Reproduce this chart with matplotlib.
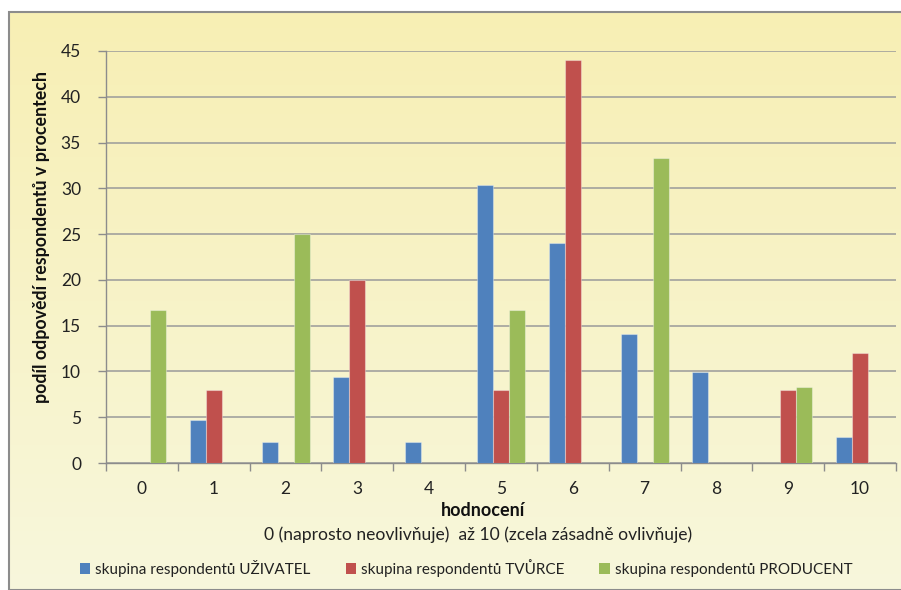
import numpy as np
import matplotlib
matplotlib.use("Agg")
import matplotlib.pyplot as plt
from matplotlib.patches import Rectangle, Patch

plt.rcParams['font.family'] = ['Lato', 'DejaVu Sans']

# Ratings 0..10 and share of answers (%) for each respondent group
ratings = [0, 1, 2, 3, 4, 5, 6, 7, 8, 9, 10]
uzivatel = [0, 4.7, 2.3, 9.4, 2.3, 30.4, 24.0, 14.1, 9.9, 0, 2.8]
tvurce = [0, 8.0, 0, 20.0, 0, 8.0, 44.0, 0, 0, 8.0, 12.0]
producent = [16.7, 0, 25.0, 0, 0, 16.7, 0, 33.3, 0, 8.3, 0]

series_names = ["skupina respondentů UŽIVATEL",
                "skupina respondentů TVŮRCE",
                "skupina respondentů PRODUCENT"]
series_colors = ["#4F81BD", "#C0504D", "#9BBB59"]
y_ticks = [0, 5, 10, 15, 20, 25, 30, 35, 40, 45]

W, H = 901, 590
fig = plt.figure(figsize=(W / 100, H / 100), dpi=100)
fig.patch.set_facecolor("white")

# Chart-area frame with a soft yellow vertical gradient
bg = fig.add_axes([9 / W, 0, 1 - 9 / W, 1 - 12 / H])
grad = np.linspace(0, 1, 256)[:, None]
top = np.array([247, 239, 180]) / 255
bottom = np.array([248, 247, 220]) / 255
img = top[None, None, :] * (1 - grad[:, :, None]) + bottom[None, None, :] * grad[:, :, None]
bg.imshow(img, aspect="auto", extent=[0, 1, 0, 1], origin="upper")
bg.set_xlim(0, 1)
bg.set_ylim(0, 1)
bg.axis("off")
bg.add_patch(Rectangle((0, 0), 1.2, 1, transform=bg.transAxes, fill=False,
                       edgecolor="#8C8C8C", linewidth=1.5, clip_on=False))

ax = fig.add_axes([106 / W, 1 - 463 / H, (896 - 106) / W, (463 - 51) / H])
ax.patch.set_alpha(0)

x = np.arange(len(ratings))
bw = 0.223
for i, (vals, col, name) in enumerate(zip([uzivatel, tvurce, producent],
                                          series_colors, series_names)):
    ax.bar(x + (i - 1) * bw, vals, width=bw, color=col, edgecolor=(1, 1, 1, 0.35),
           linewidth=0.8, label=name, zorder=3)

ax.set_xlim(-0.5, len(ratings) - 0.5)
ax.set_ylim(0, 45)
ax.set_yticks(y_ticks)
ax.set_xticks(x)
ax.set_xticklabels([str(r) for r in ratings])
ax.set_xticks(np.arange(-0.5, len(ratings)), minor=True)
ax.tick_params(axis="x", which="major", length=0, pad=13, labelsize=12.5, labelcolor="#222222")
ax.tick_params(axis="x", which="minor", length=6, color="#8C8C8C", width=1)
ax.tick_params(axis="y", length=6, color="#8C8C8C", width=1, pad=12,
               labelsize=12.5, labelcolor="#222222")

ax.grid(axis="y", color="#9A9A9A", linewidth=1.1, zorder=0)
for s in ["top", "right"]:
    ax.spines[s].set_visible(False)
for s in ["left", "bottom"]:
    ax.spines[s].set_color("#8C8C8C")
    ax.spines[s].set_linewidth(1)

fig.text(42 / W, 1 - 237 / H, "podíl odpovědí respondentů v procentech",
         rotation=90, ha="center", va="center", fontsize=12.8, fontweight="bold",
         color="#111111")
fig.text(483 / W, 1 - 510 / H, "hodnocení", ha="center", va="center",
         fontsize=13, fontweight="bold", color="#111111")
fig.text(478 / W, 1 - 535 / H, "0 (naprosto neovlivňuje)  až 10 (zcela zásadně ovlivňuje)",
         ha="center", va="center", fontsize=12.6, color="#222222")

handles = [Patch(facecolor=c, edgecolor="none") for c in series_colors]
fig.legend(handles, series_names, loc="center", bbox_to_anchor=(466 / W, 1 - 568 / H),
           ncol=3, frameon=False, fontsize=11, handlelength=0.7, handleheight=0.7,
           handletextpad=0.3, columnspacing=2.3, labelcolor="#222222")

fig.savefig("out.png", dpi=100)
